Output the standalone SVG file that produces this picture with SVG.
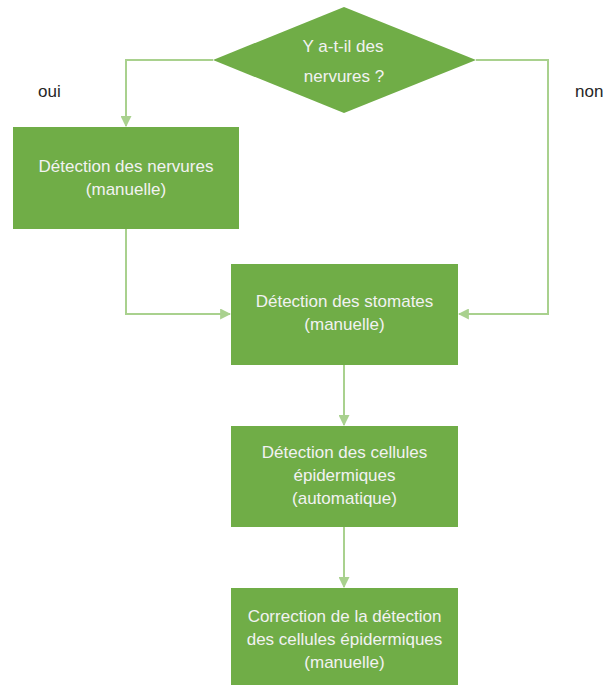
<svg xmlns="http://www.w3.org/2000/svg" width="603" height="685" viewBox="0 0 603 685">
<style>
.node{fill:#70AD47}
.t{font-family:"Liberation Sans",Arial,sans-serif;font-size:17px;fill:#F2F2F2;text-anchor:middle}
.lbl{font-family:"Liberation Sans",Arial,sans-serif;font-size:17px;fill:#262626}
.c{fill:none;stroke:#A9D18E;stroke-width:2}
</style>
<defs>
<marker id="ah" viewBox="0 0 10 10" refX="9" refY="5" markerWidth="5.5" markerHeight="5.5" orient="auto" markerUnits="strokeWidth">
<path d="M0,0 L10,5 L0,10 z" fill="#A9D18E"/>
</marker>
</defs>
<rect width="603" height="685" fill="#FFFFFF"/>
<g id="connectors">
<polyline class="c" points="213,60 126,60 126,126" marker-end="url(#ah)"/>
<polyline class="c" points="476,60 548,60 548,314 459,314" marker-end="url(#ah)"/>
<polyline class="c" points="126,229 126,314 230,314" marker-end="url(#ah)"/>
<line class="c" x1="344" y1="365" x2="344" y2="425" marker-end="url(#ah)"/>
<line class="c" x1="344" y1="527" x2="344" y2="587" marker-end="url(#ah)"/>
</g>
<g id="decision">
<polygon class="node" points="344,7 476,60 344,113 213,60"/>
<text class="t" x="343" y="52">Y a-t-il des</text>
<text class="t" x="344" y="82">nervures ?</text>
</g>
<g id="label-oui"><text class="lbl" x="38" y="97">oui</text></g>
<g id="label-non"><text class="lbl" x="575" y="97">non</text></g>
<g id="nervures">
<rect class="node" x="13" y="127" width="226" height="102"/>
<text class="t" x="126" y="172">Détection des nervures</text>
<text class="t" x="126" y="195">(manuelle)</text>
</g>
<g id="stomates">
<rect class="node" x="231" y="264" width="227" height="101"/>
<text class="t" x="344.5" y="307">Détection des stomates</text>
<text class="t" x="344.5" y="330">(manuelle)</text>
</g>
<g id="cellules">
<rect class="node" x="231" y="426" width="227" height="101"/>
<text class="t" x="344.5" y="458">Détection des cellules</text>
<text class="t" x="344.5" y="481">épidermiques</text>
<text class="t" x="344.5" y="504">(automatique)</text>
</g>
<g id="correction">
<rect class="node" x="231" y="588" width="227" height="97"/>
<text class="t" x="344.5" y="622">Correction de la détection</text>
<text class="t" x="344.5" y="645">des cellules épidermiques</text>
<text class="t" x="344.5" y="668">(manuelle)</text>
</g>
</svg>
